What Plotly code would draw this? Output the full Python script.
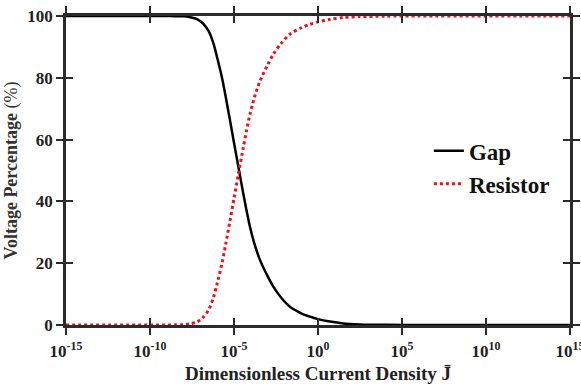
import plotly.graph_objects as go

# log10 of dimensionless current density
j_exp = [-15, -10, -9, -8.5, -8, -7.6, -7.2, -6.85, -6.5, -6.23, -6.0, -5.73, -5.5, -5.24, -5.0,
         -4.74, -4.45, -4.25, -4.05, -3.8, -3.45, -3.0, -2.66, -2.2, -1.67, -1.0, -0.48, 0.0, 0.71,
         1.5, 2.5, 4, 6, 10, 15]
gap_pct = [100, 100, 99.98, 99.95, 99.9, 99.6, 99.0, 97.6, 95.0, 91.2, 86.5, 80.4, 74.0, 66.3, 59.0,
           51.2, 42.6, 37.0, 31.8, 26.6, 21.0, 15.8, 12.4, 8.9, 5.9, 3.8, 2.7, 1.9, 1.1,
           0.5, 0.2, 0.05, 0.01, 0, 0]
resistor_pct = [0, 0, 0.02, 0.05, 0.1, 0.4, 1.0, 2.4, 5.0, 8.8, 13.5, 19.6, 26.0, 33.7, 41.0,
                48.8, 57.4, 63.0, 68.2, 73.4, 79.0, 84.2, 87.6, 91.1, 94.1, 96.2, 97.3, 98.1, 98.9,
                99.5, 99.8, 99.95, 99.99, 100, 100]
x_tick_exp = [-15, -10, -5, 0, 5, 10, 15]
y_ticks = [0, 20, 40, 60, 80, 100]

J = [10 ** e for e in j_exp]
FONT = "Liberation Serif"
AX = "#2b2b2b"

fig = go.Figure()
fig.add_trace(go.Scatter(x=J, y=gap_pct, mode="lines", name="<b>Gap</b>",
                         line=dict(color="black", width=2.5, shape="spline", smoothing=0.8)))
fig.add_trace(go.Scatter(x=J, y=resistor_pct, mode="lines", name="<b>Resistor</b>",
                         line=dict(color="#e8141c", width=3, dash="dot", shape="spline", smoothing=0.8)))
fig.add_trace(go.Scatter(x=[1e-15, 1e15], y=[0, 100], xaxis="x2", yaxis="y2", mode="lines",
                         line=dict(width=0), showlegend=False, hoverinfo="skip"))

tickvals = [10 ** e for e in x_tick_exp]
ticktext = ["<b>10<sup>%d</sup></b>" % e for e in x_tick_exp]

common = dict(showgrid=False, zeroline=False, showline=True, linecolor=AX, linewidth=2.5,
              tickcolor=AX, tickwidth=2, ticklen=7, mirror="ticks", automargin=False)

fig.update_layout(
    width=581, height=384,
    margin=dict(l=66, r=11, t=16, b=59),
    plot_bgcolor="white", paper_bgcolor="white",
    font=dict(family=FONT, color="#222", size=16),
    xaxis=dict(type="log", range=[-15, 15], tickvals=tickvals, ticktext=ticktext,
               ticks="outside", tickfont=dict(size=17, family=FONT, color="#222"),
               ticklabeloverflow="allow", ticklabelstandoff=2,
               title=dict(text="<b>Dimensionless Current Density J\u0304</b>",
                          font=dict(size=19, family=FONT, color="#222"), standoff=9),
               **common),
    yaxis=dict(range=[0, 100], tickvals=y_ticks, ticktext=["<b>%d</b>" % v for v in y_ticks],
               ticks="outside", tickfont=dict(size=17, family=FONT, color="#222"),
               ticklabeloverflow="allow",
               title=dict(text="<b>Voltage Percentage</b> (%)",
                          font=dict(size=18, family=FONT, color="#333"), standoff=6),
               **common),
    xaxis2=dict(type="log", range=[-15, 15], tickvals=tickvals, overlaying="x",
                ticks="inside", showticklabels=False, anchor="y2", **common),
    yaxis2=dict(range=[0, 100], tickvals=y_ticks, overlaying="y", ticks="inside",
                showticklabels=False, anchor="x2", **common),
    legend=dict(x=0.72, y=0.51, xanchor="left", yanchor="middle",
                bgcolor="rgba(0,0,0,0)", font=dict(size=23, family=FONT, color="#111"),
                itemwidth=30, tracegroupgap=0),
    showlegend=True,
)

fig.write_html("out.html", config={"displayModeBar": False},
               post_script="document.body.style.margin='0';")
